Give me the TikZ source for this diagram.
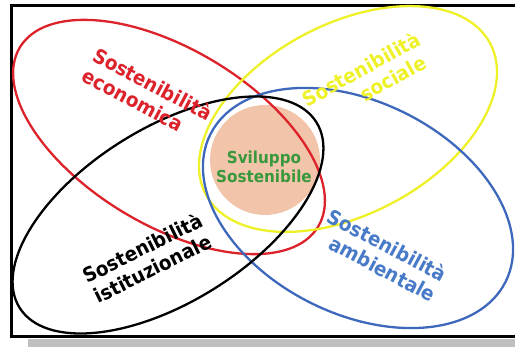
\documentclass[tikz,border=0pt]{standalone}
\usepackage{fontspec}
\setmainfont{DejaVu Sans}
\newfontfamily\lblfont[FakeStretch=0.92]{DejaVu Sans}
\definecolor{econred}{RGB}{220,34,42}
\definecolor{socyel}{RGB}{238,240,40}
\definecolor{ambblue}{RGB}{62,104,188}
\definecolor{ambtext}{RGB}{72,122,200}
\definecolor{svgreen}{RGB}{56,152,60}
\definecolor{peach}{RGB}{242,196,170}
\tikzset{
  ring/.style={line width=2.3pt},
  lbl/.style={font=\lblfont\bfseries\fontsize{20}{23}\selectfont, inner sep=0pt},
  corelbl/.style={font=\lblfont\bfseries\fontsize{16.5}{19}\selectfont, align=center, text=svgreen, inner sep=0pt}
}
\begin{document}
\begin{tikzpicture}[x=1pt,y=-1pt]
\useasboundingbox (0,0) rectangle (515,347);
% gray shadow band and frame
\fill[black!25] (28,339.5) rectangle (515,347);
\draw[line width=3pt] (520,6) -- (11,6) -- (11,337) -- (520,337);
% core circle
\node[circle, fill=peach, minimum size=110pt, inner sep=0pt] (core) at (265,160) {};
% four ellipses
\draw[ring, econred, rotate around={-31:(169,137)}] (169,137) ellipse [x radius=174pt, y radius=88pt];
\draw[ring, socyel, rotate around={28:(348,119)}] (348,119) ellipse [x radius=161pt, y radius=95pt];
\draw[ring, ambblue, rotate around={-26.5:(358,208)}] (358,208) ellipse [x radius=165pt, y radius=106pt];
\draw[ring, black, rotate around={32:(168,215)}] (168,215) ellipse [x radius=175pt, y radius=87pt];
% labels
\node[lbl, text=econred, rotate=-28, align=left] (eco) at (147.5,94) {Sostenibilità\\economica};
\node[lbl, text=socyel, rotate=29, align=right] (soc) at (366.7,79) {Sostenibilità\\sociale\hspace*{6pt}};
\node[lbl, text=black, rotate=26.5, align=center] (ist) at (147.5,258) {Sostenibilità\\istituzionale};
\node[lbl, text=ambtext, rotate=-28, align=right] (amb) at (382,255) {Sostenibilità\\ambientale};
\node[corelbl] (sv) at (264,167) {Sviluppo\\Sostenibile};
\end{tikzpicture}
\end{document}
